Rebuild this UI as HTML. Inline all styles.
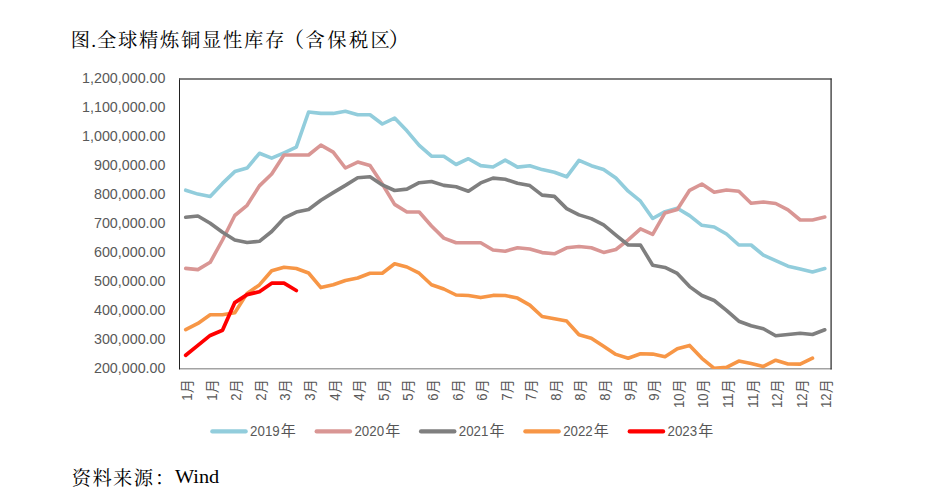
<!DOCTYPE html><html><head><meta charset="utf-8"><title>chart</title>
<style>html,body{margin:0;padding:0;background:#fff;}body{width:941px;height:500px;overflow:hidden;}svg{display:block;}text{font-family:"Liberation Sans","Noto Sans CJK SC",sans-serif;}.k{font-family:"Liberation Serif","Noto Serif CJK SC",serif;}</style>
</head><body>
<svg width="941" height="500" viewBox="0 0 941 500">
<rect width="941" height="500" fill="#fff"/>
<text class="k" x="70.8" y="46.6" font-size="19.3" fill="#000">图</text>
<text class="k" x="93.6" y="46.6" font-size="19.3" text-anchor="middle" fill="#000">.</text>
<text class="k" x="97.1" y="46.6" font-size="19.3" textLength="187.3" lengthAdjust="spacing" fill="#000">全球精炼铜显性库存</text>
<text class="k" x="283.1" y="46.6" font-size="21.2" fill="#000">（</text>
<text class="k" x="305.6" y="46.6" font-size="19.3" textLength="84.2" lengthAdjust="spacing" fill="#000">含保税区</text>
<text class="k" x="388.6" y="46.6" font-size="21.2" fill="#000">）</text>
<text class="k" x="71.7" y="484.6" font-size="19.3" textLength="81.4" lengthAdjust="spacing" fill="#000">资料来源</text>
<text class="k" x="155" y="484.6" font-size="19.3" fill="#000">：</text>
<text x="175" y="482.9" textLength="44.2" lengthAdjust="spacingAndGlyphs" style="font-family:'Liberation Serif',serif" font-size="19.6" fill="#000">Wind</text>
<text x="165.5" y="83.2" text-anchor="end" font-size="14.3" fill="#595959">1,200,000.00</text>
<text x="165.5" y="112.2" text-anchor="end" font-size="14.3" fill="#595959">1,100,000.00</text>
<text x="165.5" y="141.2" text-anchor="end" font-size="14.3" fill="#595959">1,000,000.00</text>
<text x="165.5" y="170.2" text-anchor="end" font-size="14.3" fill="#595959">900,000.00</text>
<text x="165.5" y="199.2" text-anchor="end" font-size="14.3" fill="#595959">800,000.00</text>
<text x="165.5" y="228.2" text-anchor="end" font-size="14.3" fill="#595959">700,000.00</text>
<text x="165.5" y="257.2" text-anchor="end" font-size="14.3" fill="#595959">600,000.00</text>
<text x="165.5" y="286.2" text-anchor="end" font-size="14.3" fill="#595959">500,000.00</text>
<text x="165.5" y="315.2" text-anchor="end" font-size="14.3" fill="#595959">400,000.00</text>
<text x="165.5" y="344.2" text-anchor="end" font-size="14.3" fill="#595959">300,000.00</text>
<text x="165.5" y="373.2" text-anchor="end" font-size="14.3" fill="#595959">200,000.00</text>
<line x1="179" y1="368.8" x2="831.7" y2="368.8" stroke="#a3a3a3" stroke-width="1.5"/>
<clipPath id="cp"><rect x="179" y="78" width="653" height="291"/></clipPath>
<g clip-path="url(#cp)">
<polyline points="185.7,190.2 197.9,194.1 210.2,196.5 222.5,183.4 234.8,171.6 247.1,168.1 259.4,153.3 271.7,158.1 284.0,152.8 296.3,147.2 308.6,112.0 320.9,113.4 333.2,113.4 345.4,111.3 357.7,114.7 370.0,114.7 382.3,124.0 394.6,118.1 406.9,130.8 419.2,145.3 431.5,156.2 443.8,156.2 456.1,164.5 468.4,158.7 480.7,165.6 493.0,167.0 505.2,160.1 517.5,167.1 529.8,165.7 542.1,169.6 554.4,172.2 566.7,176.8 579.0,160.3 591.3,165.7 603.6,169.5 615.9,178.1 628.2,191.2 640.5,201.2 652.7,218.5 665.0,211.7 677.3,208.3 689.6,215.6 701.9,225.3 714.2,227.0 726.5,234.0 738.8,245.0 751.1,245.0 763.4,255.2 775.7,260.6 788.0,266.2 800.2,268.9 812.5,272.0 824.8,268.6" fill="none" stroke="#92CDDC" stroke-width="3.6" stroke-linejoin="round" stroke-linecap="round"/>
<polyline points="185.7,268.4 197.9,269.6 210.2,262.3 222.5,240.0 234.8,215.5 247.1,205.3 259.4,185.9 271.7,174.0 284.0,155.0 296.3,155.0 308.6,155.0 320.9,145.1 333.2,152.1 345.4,168.0 357.7,162.1 370.0,165.6 382.3,184.0 394.6,204.4 406.9,212.0 419.2,212.0 431.5,226.0 443.8,238.1 456.1,242.7 468.4,242.7 480.7,242.7 493.0,250.0 505.2,251.2 517.5,247.8 529.8,249.0 542.1,252.6 554.4,253.8 566.7,247.8 579.0,246.5 591.3,247.8 603.6,252.4 615.9,249.5 628.2,239.8 640.5,228.8 652.7,234.3 665.0,212.9 677.3,209.5 689.6,190.3 701.9,184.0 714.2,192.3 726.5,190.0 738.8,191.3 751.1,203.3 763.4,202.0 775.7,203.5 788.0,209.9 800.2,220.0 812.5,220.0 824.8,217.1" fill="none" stroke="#D99694" stroke-width="3.6" stroke-linejoin="round" stroke-linecap="round"/>
<polyline points="185.7,217.2 197.9,216.0 210.2,223.2 222.5,232.3 234.8,240.0 247.1,242.5 259.4,241.3 271.7,231.5 284.0,218.2 296.3,212.1 308.6,209.5 320.9,200.2 333.2,192.6 345.4,185.4 357.7,177.7 370.0,176.7 382.3,184.9 394.6,190.5 406.9,189.1 419.2,182.7 431.5,181.5 443.8,185.4 456.1,186.7 468.4,191.3 480.7,182.9 493.0,178.1 505.2,179.3 517.5,183.2 529.8,185.6 542.1,195.1 554.4,196.4 566.7,208.6 579.0,214.9 591.3,218.6 603.6,224.9 615.9,235.1 628.2,245.0 640.5,245.1 652.7,265.2 665.0,267.4 677.3,273.4 689.6,286.6 701.9,295.5 714.2,300.5 726.5,310.3 738.8,321.2 751.1,325.8 763.4,328.8 775.7,335.8 788.0,334.5 800.2,333.2 812.5,334.5 824.8,329.8" fill="none" stroke="#7F7F7F" stroke-width="3.6" stroke-linejoin="round" stroke-linecap="round"/>
<polyline points="185.7,329.7 197.9,323.4 210.2,314.8 222.5,314.8 234.8,312.7 247.1,293.4 259.4,284.9 271.7,270.8 284.0,267.3 296.3,268.5 308.6,273.0 320.9,287.6 333.2,284.8 345.4,280.5 357.7,278.0 370.0,273.2 382.3,273.2 394.6,263.8 406.9,267.0 419.2,273.2 431.5,284.7 443.8,289.0 456.1,295.0 468.4,295.5 480.7,297.6 493.0,295.4 505.2,295.5 517.5,298.1 529.8,305.1 542.1,316.5 554.4,318.7 566.7,321.1 579.0,334.8 591.3,338.2 603.6,346.2 615.9,354.4 628.2,358.3 640.5,353.8 652.7,354.1 665.0,356.7 677.3,348.7 689.6,345.4 701.9,358.3 714.2,368.3 726.5,367.4 738.8,361.1 751.1,363.6 763.4,366.4 775.7,360.2 788.0,364.0 800.2,364.1 812.5,358.2" fill="none" stroke="#F79646" stroke-width="3.6" stroke-linejoin="round" stroke-linecap="round"/>
<polyline points="185.7,355.3 197.9,345.4 210.2,335.4 222.5,330.2 234.8,302.6 247.1,294.6 259.4,291.7 271.7,283.2 284.0,283.2 296.3,290.5" fill="none" stroke="#FF0000" stroke-width="3.75" stroke-linejoin="round" stroke-linecap="round"/>
</g>
<line x1="179.5" y1="78.4" x2="179.5" y2="369.4" stroke="#222" stroke-width="1"/>
<line x1="179" y1="79.0" x2="831.7" y2="79.0" stroke="#555" stroke-width="1.35"/>
<line x1="831.1" y1="78.4" x2="831.1" y2="369.5" stroke="#3c3c3c" stroke-width="1.35"/>
<text transform="translate(192.15,393.4) rotate(-90)" text-anchor="end" font-size="14.0" textLength="7.3" lengthAdjust="spacingAndGlyphs" fill="#595959">1</text>
<text transform="translate(192.10,393.3) rotate(-90)" font-size="14" fill="#555">月</text>
<text transform="translate(216.73,393.4) rotate(-90)" text-anchor="end" font-size="14.0" textLength="7.3" lengthAdjust="spacingAndGlyphs" fill="#595959">1</text>
<text transform="translate(216.68,393.3) rotate(-90)" font-size="14" fill="#555">月</text>
<text transform="translate(241.32,393.4) rotate(-90)" text-anchor="end" font-size="14.0" textLength="7.3" lengthAdjust="spacingAndGlyphs" fill="#595959">2</text>
<text transform="translate(241.27,393.3) rotate(-90)" font-size="14" fill="#555">月</text>
<text transform="translate(265.90,393.4) rotate(-90)" text-anchor="end" font-size="14.0" textLength="7.3" lengthAdjust="spacingAndGlyphs" fill="#595959">2</text>
<text transform="translate(265.85,393.3) rotate(-90)" font-size="14" fill="#555">月</text>
<text transform="translate(290.49,393.4) rotate(-90)" text-anchor="end" font-size="14.0" textLength="7.3" lengthAdjust="spacingAndGlyphs" fill="#595959">3</text>
<text transform="translate(290.44,393.3) rotate(-90)" font-size="14" fill="#555">月</text>
<text transform="translate(315.07,393.4) rotate(-90)" text-anchor="end" font-size="14.0" textLength="7.3" lengthAdjust="spacingAndGlyphs" fill="#595959">3</text>
<text transform="translate(315.02,393.3) rotate(-90)" font-size="14" fill="#555">月</text>
<text transform="translate(339.65,393.4) rotate(-90)" text-anchor="end" font-size="14.0" textLength="7.3" lengthAdjust="spacingAndGlyphs" fill="#595959">4</text>
<text transform="translate(339.60,393.3) rotate(-90)" font-size="14" fill="#555">月</text>
<text transform="translate(364.24,393.4) rotate(-90)" text-anchor="end" font-size="14.0" textLength="7.3" lengthAdjust="spacingAndGlyphs" fill="#595959">4</text>
<text transform="translate(364.19,393.3) rotate(-90)" font-size="14" fill="#555">月</text>
<text transform="translate(388.82,393.4) rotate(-90)" text-anchor="end" font-size="14.0" textLength="7.3" lengthAdjust="spacingAndGlyphs" fill="#595959">5</text>
<text transform="translate(388.77,393.3) rotate(-90)" font-size="14" fill="#555">月</text>
<text transform="translate(413.41,393.4) rotate(-90)" text-anchor="end" font-size="14.0" textLength="7.3" lengthAdjust="spacingAndGlyphs" fill="#595959">5</text>
<text transform="translate(413.36,393.3) rotate(-90)" font-size="14" fill="#555">月</text>
<text transform="translate(437.99,393.4) rotate(-90)" text-anchor="end" font-size="14.0" textLength="7.3" lengthAdjust="spacingAndGlyphs" fill="#595959">6</text>
<text transform="translate(437.94,393.3) rotate(-90)" font-size="14" fill="#555">月</text>
<text transform="translate(462.57,393.4) rotate(-90)" text-anchor="end" font-size="14.0" textLength="7.3" lengthAdjust="spacingAndGlyphs" fill="#595959">6</text>
<text transform="translate(462.52,393.3) rotate(-90)" font-size="14" fill="#555">月</text>
<text transform="translate(487.16,393.4) rotate(-90)" text-anchor="end" font-size="14.0" textLength="7.3" lengthAdjust="spacingAndGlyphs" fill="#595959">6</text>
<text transform="translate(487.11,393.3) rotate(-90)" font-size="14" fill="#555">月</text>
<text transform="translate(511.74,393.4) rotate(-90)" text-anchor="end" font-size="14.0" textLength="7.3" lengthAdjust="spacingAndGlyphs" fill="#595959">7</text>
<text transform="translate(511.69,393.3) rotate(-90)" font-size="14" fill="#555">月</text>
<text transform="translate(536.33,393.4) rotate(-90)" text-anchor="end" font-size="14.0" textLength="7.3" lengthAdjust="spacingAndGlyphs" fill="#595959">7</text>
<text transform="translate(536.28,393.3) rotate(-90)" font-size="14" fill="#555">月</text>
<text transform="translate(560.91,393.4) rotate(-90)" text-anchor="end" font-size="14.0" textLength="7.3" lengthAdjust="spacingAndGlyphs" fill="#595959">8</text>
<text transform="translate(560.86,393.3) rotate(-90)" font-size="14" fill="#555">月</text>
<text transform="translate(585.49,393.4) rotate(-90)" text-anchor="end" font-size="14.0" textLength="7.3" lengthAdjust="spacingAndGlyphs" fill="#595959">8</text>
<text transform="translate(585.44,393.3) rotate(-90)" font-size="14" fill="#555">月</text>
<text transform="translate(610.08,393.4) rotate(-90)" text-anchor="end" font-size="14.0" textLength="7.3" lengthAdjust="spacingAndGlyphs" fill="#595959">8</text>
<text transform="translate(610.03,393.3) rotate(-90)" font-size="14" fill="#555">月</text>
<text transform="translate(634.66,393.4) rotate(-90)" text-anchor="end" font-size="14.0" textLength="7.3" lengthAdjust="spacingAndGlyphs" fill="#595959">9</text>
<text transform="translate(634.61,393.3) rotate(-90)" font-size="14" fill="#555">月</text>
<text transform="translate(659.25,393.4) rotate(-90)" text-anchor="end" font-size="14.0" textLength="7.3" lengthAdjust="spacingAndGlyphs" fill="#595959">9</text>
<text transform="translate(659.20,393.3) rotate(-90)" font-size="14" fill="#555">月</text>
<text transform="translate(683.83,393.4) rotate(-90)" text-anchor="end" font-size="14.0" textLength="14.6" lengthAdjust="spacingAndGlyphs" fill="#595959">10</text>
<text transform="translate(683.78,393.3) rotate(-90)" font-size="14" fill="#555">月</text>
<text transform="translate(708.41,393.4) rotate(-90)" text-anchor="end" font-size="14.0" textLength="14.6" lengthAdjust="spacingAndGlyphs" fill="#595959">10</text>
<text transform="translate(708.36,393.3) rotate(-90)" font-size="14" fill="#555">月</text>
<text transform="translate(733.00,393.4) rotate(-90)" text-anchor="end" font-size="14.0" textLength="14.6" lengthAdjust="spacingAndGlyphs" fill="#595959">11</text>
<text transform="translate(732.95,393.3) rotate(-90)" font-size="14" fill="#555">月</text>
<text transform="translate(757.58,393.4) rotate(-90)" text-anchor="end" font-size="14.0" textLength="14.6" lengthAdjust="spacingAndGlyphs" fill="#595959">11</text>
<text transform="translate(757.53,393.3) rotate(-90)" font-size="14" fill="#555">月</text>
<text transform="translate(782.17,393.4) rotate(-90)" text-anchor="end" font-size="14.0" textLength="14.6" lengthAdjust="spacingAndGlyphs" fill="#595959">12</text>
<text transform="translate(782.12,393.3) rotate(-90)" font-size="14" fill="#555">月</text>
<text transform="translate(806.75,393.4) rotate(-90)" text-anchor="end" font-size="14.0" textLength="14.6" lengthAdjust="spacingAndGlyphs" fill="#595959">12</text>
<text transform="translate(806.70,393.3) rotate(-90)" font-size="14" fill="#555">月</text>
<text transform="translate(831.33,393.4) rotate(-90)" text-anchor="end" font-size="14.0" textLength="14.6" lengthAdjust="spacingAndGlyphs" fill="#595959">12</text>
<text transform="translate(831.28,393.3) rotate(-90)" font-size="14" fill="#555">月</text>
<line x1="212.30" y1="431.4" x2="245.70" y2="431.4" stroke="#92CDDC" stroke-width="4.2" stroke-linecap="round"/>
<text x="250.10" y="435.6" font-size="14" textLength="29.6" lengthAdjust="spacingAndGlyphs" fill="#595959">2019</text>
<text x="280.80" y="435.8" font-size="15" fill="#555">年</text>
<line x1="316.65" y1="431.4" x2="350.05" y2="431.4" stroke="#D99694" stroke-width="4.2" stroke-linecap="round"/>
<text x="354.45" y="435.6" font-size="14" textLength="29.6" lengthAdjust="spacingAndGlyphs" fill="#595959">2020</text>
<text x="385.15" y="435.8" font-size="15" fill="#555">年</text>
<line x1="421.00" y1="431.4" x2="454.40" y2="431.4" stroke="#7F7F7F" stroke-width="4.2" stroke-linecap="round"/>
<text x="458.80" y="435.6" font-size="14" textLength="29.6" lengthAdjust="spacingAndGlyphs" fill="#595959">2021</text>
<text x="489.50" y="435.8" font-size="15" fill="#555">年</text>
<line x1="525.35" y1="431.4" x2="558.75" y2="431.4" stroke="#F79646" stroke-width="4.2" stroke-linecap="round"/>
<text x="563.15" y="435.6" font-size="14" textLength="29.6" lengthAdjust="spacingAndGlyphs" fill="#595959">2022</text>
<text x="593.85" y="435.8" font-size="15" fill="#555">年</text>
<line x1="629.70" y1="431.4" x2="663.10" y2="431.4" stroke="#FF0000" stroke-width="4.2" stroke-linecap="round"/>
<text x="667.50" y="435.6" font-size="14" textLength="29.6" lengthAdjust="spacingAndGlyphs" fill="#595959">2023</text>
<text x="698.20" y="435.8" font-size="15" fill="#555">年</text>
</svg></body></html>
